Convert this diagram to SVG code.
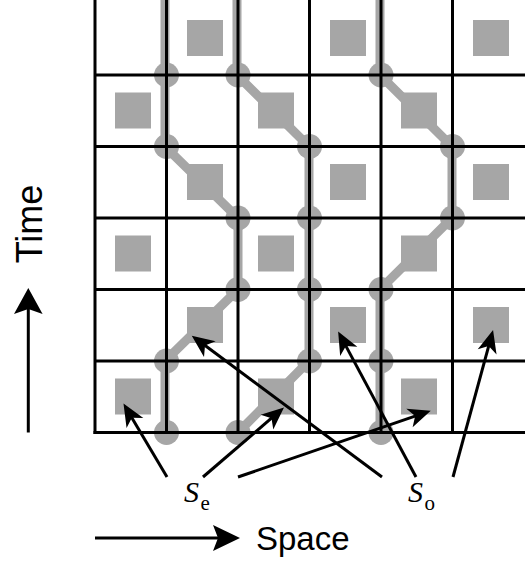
<svg xmlns="http://www.w3.org/2000/svg" width="532" height="561" viewBox="0 0 532 561">
  <style>
    .path { fill: none; stroke: #a6a6a6; stroke-width: 9; stroke-linejoin: round; }
    .dot { fill: #a6a6a6; }
    .sq { fill: #a6a6a6; }
    .grid { stroke: #000; stroke-width: 3; fill: none; }
    .arr { stroke: #000; stroke-width: 3; fill: none; }
    .sans { font-family: "Liberation Sans", Arial, Helvetica, sans-serif; fill: #000; }
    .serif { font-family: "Liberation Serif", "Times New Roman", serif; fill: #000; }
  </style>
  <defs>
    <marker id="head" markerUnits="userSpaceOnUse" orient="auto" refX="0" refY="0" markerWidth="30" markerHeight="30" viewBox="-10 -10 20 20" overflow="visible">
      <path d="M8,0 L-7,-6.5 L-3,0 L-7,6.5 Z" fill="#000"/>
    </marker>
  </defs>
  <rect width="532" height="561" fill="#fff"/>

  <!-- gray world-line paths -->
  <g id="worldlines">
    <polyline class="path" points="165,0 165,146.5 238,218 238,289.5 165,361 165,432.5"/>
    <polyline class="path" points="237,0 237,75 309,146.5 309,361 238,432.5"/>
    <polyline class="path" points="380,0 380,75 452,146.5 452,218 380,289.5 380,432.5"/>
    <g class="dot">
      <circle cx="166.5" cy="75" r="12.5"/><circle cx="166.5" cy="146.5" r="12.5"/>
      <circle cx="238" cy="218" r="12.5"/><circle cx="238" cy="289.5" r="12.5"/>
      <circle cx="166.5" cy="361" r="12.5"/><circle cx="166.5" cy="432.5" r="12.5"/>
      <circle cx="238" cy="75" r="12.5"/><circle cx="309.5" cy="146.5" r="12.5"/>
      <circle cx="309.5" cy="218" r="12.5"/><circle cx="309.5" cy="289.5" r="12.5"/>
      <circle cx="309.5" cy="361" r="12.5"/><circle cx="238" cy="432.5" r="12.5"/>
      <circle cx="381" cy="75" r="12.5"/><circle cx="452.5" cy="146.5" r="12.5"/>
      <circle cx="452.5" cy="218" r="12.5"/><circle cx="381" cy="289.5" r="12.5"/>
      <circle cx="381" cy="361" r="12.5"/><circle cx="381" cy="432.5" r="12.5"/>
    </g>
  </g>

  <!-- squares (checkerboard) -->
  <g id="squares" class="sq">
    <rect x="187" y="20" width="36" height="36"/>
    <rect x="330" y="20" width="36" height="36"/>
    <rect x="473" y="20" width="36" height="36"/>
    <rect x="115" y="92.5" width="36" height="36"/>
    <rect x="258" y="92.5" width="36" height="36"/>
    <rect x="401" y="92.5" width="36" height="36"/>
    <rect x="187" y="164" width="36" height="36"/>
    <rect x="330" y="164" width="36" height="36"/>
    <rect x="473" y="164" width="36" height="36"/>
    <rect x="115" y="235.5" width="36" height="36"/>
    <rect x="258" y="235.5" width="36" height="36"/>
    <rect x="401" y="235.5" width="36" height="36"/>
    <rect x="187" y="307" width="36" height="36"/>
    <rect x="330" y="307" width="36" height="36"/>
    <rect x="473" y="307" width="36" height="36"/>
    <rect x="115" y="378.5" width="36" height="36"/>
    <rect x="258" y="378.5" width="36" height="36"/>
    <rect x="401" y="378.5" width="36" height="36"/>
  </g>

  <!-- grid -->
  <g id="grid" class="grid">
    <line x1="95" y1="0" x2="95" y2="434"/>
    <line x1="166.5" y1="0" x2="166.5" y2="432.5"/>
    <line x1="238" y1="0" x2="238" y2="432.5"/>
    <line x1="309.5" y1="0" x2="309.5" y2="432.5"/>
    <line x1="381" y1="0" x2="381" y2="432.5"/>
    <line x1="452.5" y1="0" x2="452.5" y2="432.5"/>
    <line x1="95" y1="75" x2="525" y2="75"/>
    <line x1="95" y1="146.5" x2="525" y2="146.5"/>
    <line x1="95" y1="218" x2="525" y2="218"/>
    <line x1="95" y1="289.5" x2="525" y2="289.5"/>
    <line x1="95" y1="361" x2="525" y2="361"/>
    <line x1="93.5" y1="432.5" x2="525" y2="432.5"/>
  </g>

  <!-- connectors from labels -->
  <g id="connectors" class="arr">
    <line x1="167" y1="477" x2="129.6" y2="413.9" marker-end="url(#head)"/>
    <line x1="203" y1="477" x2="274.9" y2="415.2" marker-end="url(#head)"/>
    <line x1="238" y1="477" x2="419.4" y2="414.6" marker-end="url(#head)"/>
    <line x1="382" y1="477" x2="201.4" y2="342.8" marker-end="url(#head)"/>
    <line x1="416" y1="477" x2="343.8" y2="342.1" marker-end="url(#head)"/>
    <line x1="453" y1="477" x2="489.9" y2="341.7" marker-end="url(#head)"/>
  </g>

  <!-- labels -->
  <g id="label-se">
    <text class="serif" x="184" y="502" font-size="30" font-style="italic">S</text>
    <text class="serif" x="200.5" y="509.5" font-size="21">e</text>
  </g>
  <g id="label-so">
    <text class="serif" x="408" y="502" font-size="30" font-style="italic">S</text>
    <text class="serif" x="424.5" y="509.5" font-size="21">o</text>
  </g>

  <!-- axes -->
  <g id="axis-space">
    <line class="arr" x1="95" y1="538" x2="220" y2="538"/>
    <path d="M240,538 L213,525 L218,538 L213,551 Z" fill="#000"/>
    <text class="sans" x="256" y="549.5" font-size="33">Space</text>
  </g>
  <g id="axis-time">
    <line class="arr" x1="28.3" y1="432.5" x2="28.3" y2="305"/>
    <path d="M28.3,288 L14,314 L28.3,309 L42.6,314 Z" fill="#000"/>
    <text class="sans" transform="translate(42,224) rotate(-90)" text-anchor="middle" font-size="36">Time</text>
  </g>
</svg>
